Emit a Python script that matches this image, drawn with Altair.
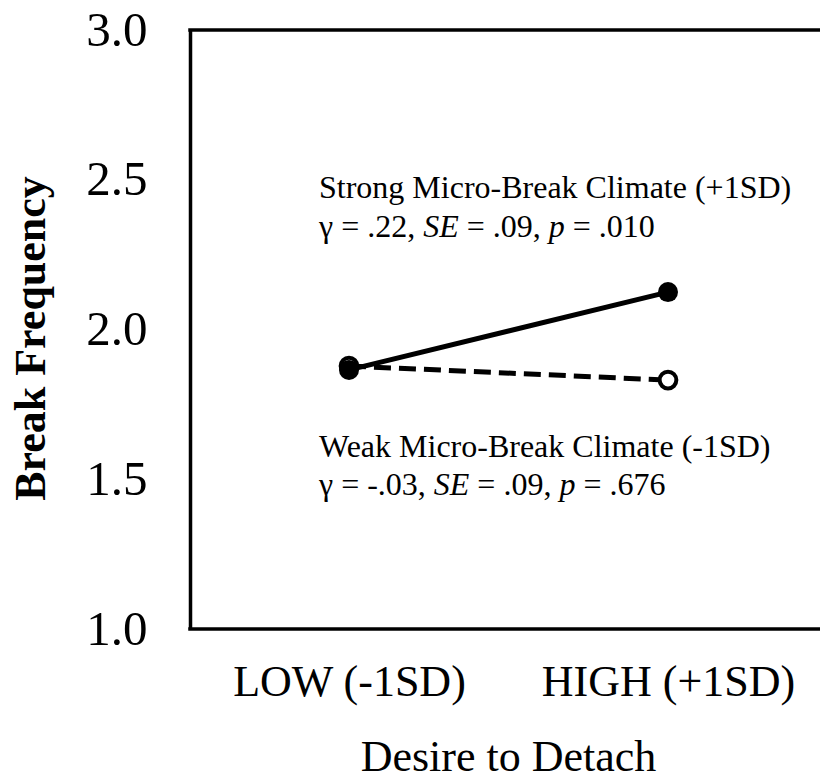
import altair as alt
import pandas as pd

# ---- data ----
categories = ["LOW (-1SD)", "HIGH (+1SD)"]
strong_values = [1.865, 2.125]
weak_values = [1.878, 1.831]
y_ticks = [1.0, 1.5, 2.0, 2.5, 3.0]

strong_label = "Strong Micro-Break Climate (+1SD)"
weak_label = "Weak Micro-Break Climate (-1SD)"
strong_stats = [("γ = .22, ", False), ("SE", True), (" = .09, ", False), ("p", True), (" = .010", False)]
weak_stats = [("γ = -.03, ", False), ("SE", True), (" = .09, ", False), ("p", True), (" = .676", False)]
strong_label_y = [2.439, 2.309]
weak_label_y = [1.574, 1.447]

FONT = "Liberation Serif"
ANN_SIZE = 32
W, H = 630, 599

# approximate Times/Liberation Serif advance widths (em)
REG = {" ": 0.25, "=": 0.564, ".": 0.25, ",": 0.25, "-": 0.333, "γ": 0.44}
ITA = {"S": 0.5, "E": 0.611, "p": 0.5}


def seg_width(s, italic):
    tot = 0.0
    for ch in s:
        if italic:
            tot += ITA.get(ch, 0.5)
        else:
            tot += REG.get(ch, 0.5)
    return tot


strong_df = pd.DataFrame({"x": categories, "y": strong_values})
weak_df = pd.DataFrame({"x": categories, "y": weak_values})

xscale = alt.Scale(domain=categories, range=[159, 478], padding=0)
yscale = alt.Scale(domain=[1.0, 3.0], nice=False, zero=False)

xenc = alt.X(
    "x:N",
    scale=xscale,
    sort=categories,
    axis=alt.Axis(
        title="Desire to Detach",
        labelAngle=0,
        labelFont=FONT,
        labelFontSize=44,
        labelColor="black",
        labelBaseline="alphabetic",
        labelPadding=66,
        labelLimit=500,
        ticks=False,
        tickSize=0,
        domain=False,
        grid=False,
        titleFont=FONT,
        titleFontSize=44,
        titleFontWeight="normal",
        titleColor="black",
        titleBaseline="alphabetic",
        titleX=318,
        titleY=141,
    ),
)
yenc = alt.Y(
    "y:Q",
    scale=yscale,
    axis=alt.Axis(
        title="Break Frequency",
        values=y_ticks,
        format=".1f",
        labelFont=FONT,
        labelFontSize=49,
        labelColor="black",
        labelPadding=43,
        ticks=False,
        tickSize=0,
        domain=True,
        domainColor="black",
        domainWidth=3.5,
        grid=False,
        titleFont=FONT,
        titleFontSize=44,
        titleFontWeight="bold",
        titleColor="black",
        titleAngle=270,
        titleAlign="center",
        titleBaseline="alphabetic",
        titleX=-146,
        titleY=308,
    ),
)

weak_line = alt.Chart(weak_df).mark_line(
    color="black", strokeWidth=5, strokeDash=[17, 8]
).encode(x=xenc, y=yenc)
weak_pts = alt.Chart(weak_df).mark_point(
    shape="circle", size=280, filled=False, fill="white", fillOpacity=1,
    stroke="black", strokeWidth=4, opacity=1
).encode(x=xenc, y=yenc)
strong_line = alt.Chart(strong_df).mark_line(
    color="black", strokeWidth=5
).encode(x=xenc, y=yenc)
strong_pts = alt.Chart(strong_df).mark_point(
    shape="circle", size=400, filled=True, color="black", opacity=1
).encode(x=xenc, y=yenc)

borders = alt.Chart(pd.DataFrame({"y": [3.0, 1.0]})).mark_rule(
    color="black", strokeWidth=3.5
).encode(y=alt.Y("y:Q", scale=yscale), x=alt.value(-1.75), x2=alt.value(W))

layers = [borders, weak_line, weak_pts, strong_line, strong_pts]

BASE_DX = -30
for label, stats, ys in [
    (strong_label, strong_stats, strong_label_y),
    (weak_label, weak_stats, weak_label_y),
]:
    df1 = pd.DataFrame({"x": [categories[0]], "y": [ys[0]], "t": [label]})
    layers.append(
        alt.Chart(df1).mark_text(
            align="left", baseline="alphabetic", font=FONT, fontSize=ANN_SIZE,
            color="black", dx=BASE_DX
        ).encode(x=alt.X("x:N", scale=xscale, sort=categories),
                 y=alt.Y("y:Q", scale=yscale), text="t:N")
    )
    offset = 0.0
    for seg, italic in stats:
        lead = len(seg) - len(seg.lstrip(" "))
        shown = seg.strip(" ")
        seg_off = offset + lead * 0.25
        dfs = pd.DataFrame({"x": [categories[0]], "y": [ys[1]], "t": [shown]})
        layers.append(
            alt.Chart(dfs).mark_text(
                align="left", baseline="alphabetic", font=FONT, fontSize=ANN_SIZE,
                color="black", fontStyle="italic" if italic else "normal",
                dx=BASE_DX + seg_off * ANN_SIZE
            ).encode(x=alt.X("x:N", scale=xscale, sort=categories),
                     y=alt.Y("y:Q", scale=yscale), text="t:N")
        )
        offset += seg_width(seg, italic)

chart = alt.layer(*layers).properties(
    width=W,
    height=H,
    autosize=alt.AutoSizeParams(type="none"),
    padding={"left": 190, "top": 30, "right": 0, "bottom": 151},
    background="white",
).configure_view(stroke=None)

chart.save("out.html", embed_options={"renderer": "svg", "actions": False})
